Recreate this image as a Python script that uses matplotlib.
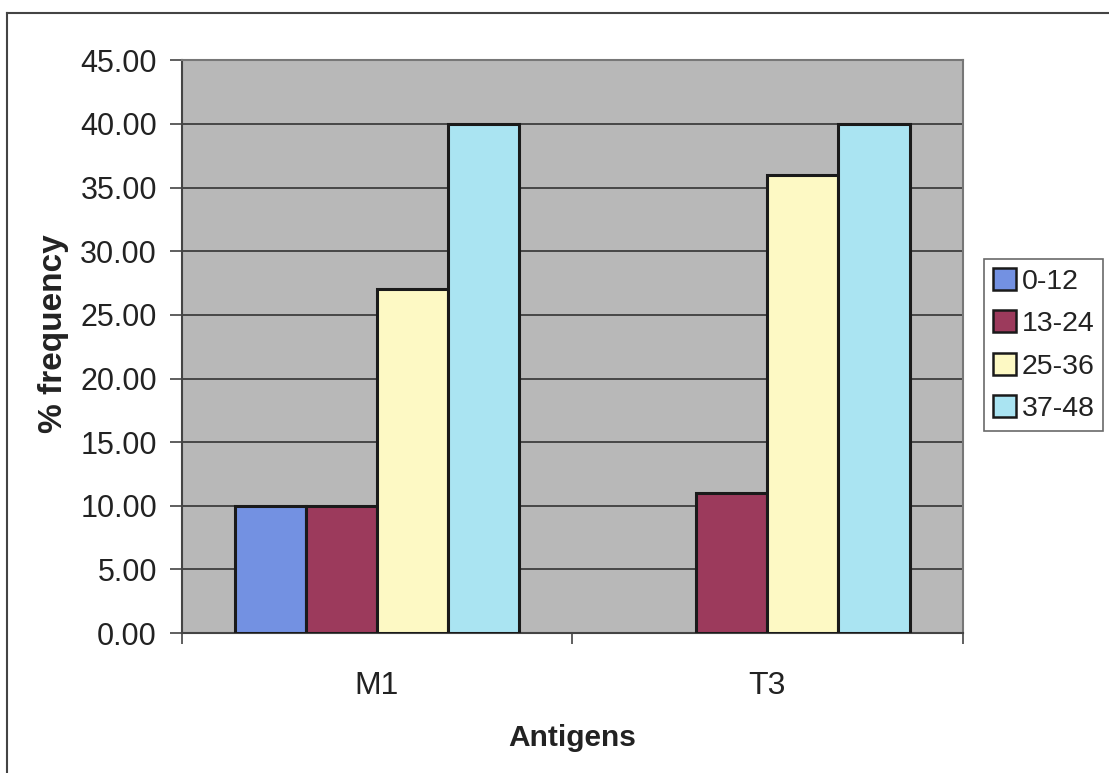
import numpy as np
import matplotlib
matplotlib.use("Agg")
import matplotlib.pyplot as plt
from matplotlib.lines import Line2D

# Donnees
antigens = ["M1", "T3"]
groups = ["0-12", "13-24", "25-36", "37-48"]
val_0_12 = [10.0, 0.0]
val_13_24 = [10.0, 11.0]
val_25_36 = [27.0, 36.0]
val_37_48 = [40.0, 40.0]
series = [val_0_12, val_13_24, val_25_36, val_37_48]
colors = ["#7391e2", "#9c3a5c", "#fdf9c4", "#aae4f2"]
yticks = [0, 5, 10, 15, 20, 25, 30, 35, 40, 45]

plt.rcParams["font.family"] = ["Liberation Sans", "DejaVu Sans"]

fig = plt.figure(figsize=(11.09, 7.73), dpi=100)
ax = fig.add_axes([0.164, 0.181, 0.704, 0.741])
ax.set_facecolor("#b8b8b8")

x = np.arange(len(antigens))
w = 0.182
for i, (vals, col, lab) in enumerate(zip(series, colors, groups)):
    lw = [2.2 if v > 0 else 0 for v in vals]
    ax.bar(x + (i - 1.5) * w, vals, width=w, color=col, edgecolor="#1a1a1a",
           linewidth=lw, label=lab, zorder=3)

ax.set_xlim(-0.5, 1.5)
ax.set_ylim(0, 45)
ax.set_yticks(yticks)
ax.set_yticklabels([f"{v:.2f}" for v in yticks], fontsize=22, color="#222222")
ax.yaxis.grid(True, color="#333333", linewidth=1.2, zorder=0)
ax.set_axisbelow(True)

# ticks x entre les categories, etiquettes au centre
ax.set_xticks([-0.5, 0.5, 1.5])
ax.set_xticklabels([])
ax.set_xticks(x, minor=True)
ax.set_xticklabels(antigens, minor=True, fontsize=23, color="#222222")
ax.tick_params(axis="x", which="minor", length=0, pad=27)
ax.tick_params(axis="x", which="major", length=8, width=1.2, color="#444444")
ax.tick_params(axis="y", length=9, width=1.2, color="#444444", pad=9)

for s in ["left", "bottom"]:
    ax.spines[s].set_color("#444444")
    ax.spines[s].set_linewidth(1.5)
for s in ["top", "right"]:
    ax.spines[s].set_color("#777777")
    ax.spines[s].set_linewidth(1.5)

ax.set_xlabel("Antigens", fontsize=21.5, fontweight="bold", color="#222222", labelpad=17)
ax.set_ylabel("% frequency", fontsize=24, fontweight="bold", color="#222222")
ax.yaxis.set_label_coords(-0.145, 0.522)

leg = ax.legend(loc="center left", bbox_to_anchor=(1.028, 0.503), fontsize=20.5,
                frameon=True, fancybox=False, edgecolor="#444444",
                handlelength=0.8, handleheight=0.8, handletextpad=0.2,
                labelspacing=0.55, borderpad=0.3, borderaxespad=0)
leg.get_frame().set_linewidth(1.2)
for h in leg.legend_handles:
    h.set_linewidth(1.8)
for t in leg.get_texts():
    t.set_color("#222222")

# cadre exterieur (haut et gauche)
fig.add_artist(Line2D([7 / 1109, 1.0], [1 - 13 / 773, 1 - 13 / 773],
                      transform=fig.transFigure, color="#444444", linewidth=1.5))
fig.add_artist(Line2D([7 / 1109, 7 / 1109], [0.0, 1 - 13 / 773],
                      transform=fig.transFigure, color="#444444", linewidth=1.5))

fig.savefig("out.png", dpi=100)
